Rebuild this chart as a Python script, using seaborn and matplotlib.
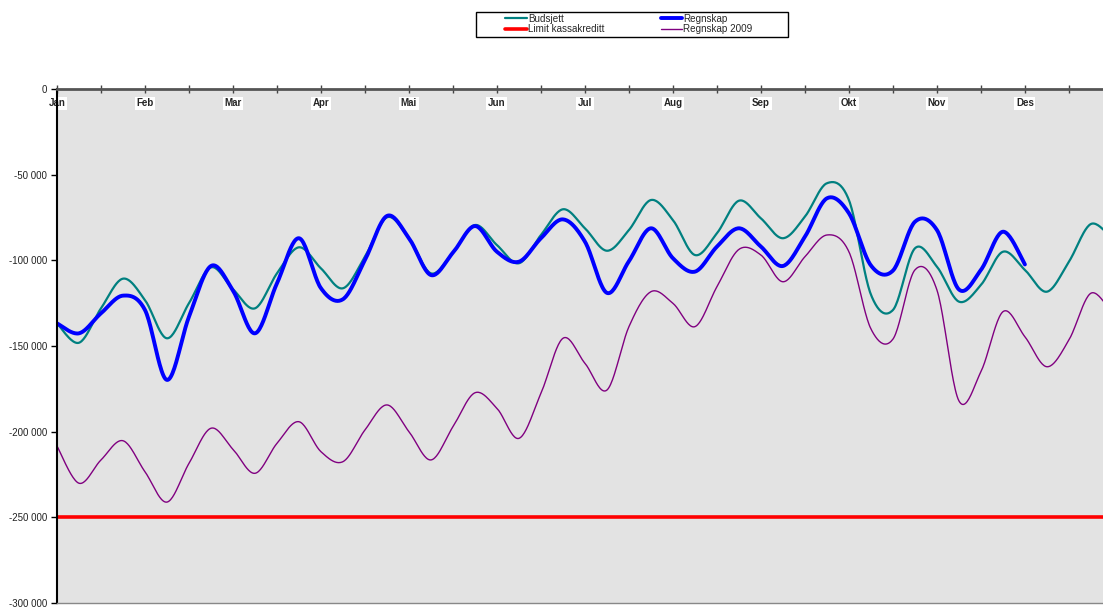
import numpy as np
import pandas as pd
import matplotlib
matplotlib.use("Agg")
import matplotlib.pyplot as plt
from matplotlib.patches import Rectangle
import seaborn as sns
from matplotlib.ticker import FuncFormatter, MultipleLocator, FixedLocator

# ---------------- data (weekly values) ----------------
months = ["Jan", "Feb", "Mar", "Apr", "Mai", "Jun", "Jul", "Aug", "Sep", "Okt", "Nov", "Des"]
month_weeks = [0, 4, 8, 12, 16, 20, 24, 28, 32, 36, 40, 44]

budsjett = [-136800, -148100, -128000, -110700, -123200, -145500, -125000, -104100,
            -116900, -128000, -107600, -92400, -104700, -116300, -97900, -74900,
            -87100, -107600, -95500, -79400, -91100, -101700, -85200, -70200,
            -81300, -94400, -82300, -64800, -76500, -96900, -84200, -65200,
            -75500, -87100, -74500, -55000, -64800, -120000, -129000, -93000,
            -103700, -124100, -114400, -95000, -105600, -118300, -100800, -78800,
            -88100]

regnskap = [-136800, -142600, -130900, -120600, -129000, -169800, -132900, -103300,
            -117700, -142600, -113400, -87100, -116300, -122700, -99800, -74100,
            -87100, -108600, -95500, -80000, -95000, -100800, -87100, -76100,
            -89100, -119000, -100500, -81300, -98800, -106600, -92000, -81300,
            -92000, -103300, -86200, -63800, -72500, -103000, -106000, -77500,
            -82300, -117000, -105600, -83300, -102400]

regnskap_2009 = [-208400, -230100, -216500, -205300, -223400, -241100, -218500, -198000,
                 -210300, -224300, -206800, -194200, -211700, -217500, -199000, -184400,
                 -200000, -216500, -197100, -177300, -186400, -203900, -177600, -145500,
                 -160100, -175700, -138700, -118300, -125100, -138700, -115400, -93600,
                 -96900, -112500, -97900, -85200, -95000, -140000, -146000, -105600,
                 -117300, -182000, -165000, -130000, -144600, -162100, -146500, -119200,
                 -131900]

limit_kassakreditt = [-250000] * 49


def smooth(vals, n=24):
    """Excel-style smoothed line: cubic Bezier through every point."""
    y = np.asarray(vals, float)
    x = np.arange(len(y), dtype=float)
    pts = np.column_stack([x, y])
    ext = np.vstack([pts[0], pts, pts[-1]])
    t = np.linspace(0, 1, n, endpoint=False)[:, None]
    out = []
    for i in range(len(pts) - 1):
        p0, p1, p2, p3 = ext[i], ext[i + 1], ext[i + 2], ext[i + 3]
        c1 = p1 + (p2 - p0) / 6
        c2 = p2 - (p3 - p1) / 6
        b = (1 - t) ** 3 * p1 + 3 * (1 - t) ** 2 * t * c1 + 3 * (1 - t) * t ** 2 * c2 + t ** 3 * p2
        out.append(b)
    out.append(pts[-1:])
    arr = np.vstack(out)
    return pd.DataFrame({"x": arr[:, 0], "y": arr[:, 1]})


# ---------------- figure ----------------
sns.set_style("white")
plt.rcParams["font.family"] = ["Liberation Sans", "DejaVu Sans"]

fig = plt.figure(figsize=(11.03, 6.07), dpi=100)
ax = fig.add_axes([57 / 1103, 4 / 607, 1 - 57 / 1103, 514 / 607])
ax.set_facecolor("#E3E3E3")

series = [
    ("Regnskap 2009", regnskap_2009, "#800080", 1.0),
    ("Budsjett", budsjett, "#008080", 1.6),
    ("Regnskap", regnskap, "#0000FF", 2.8),
]
for name, vals, col, lw in series:
    d = smooth(vals)
    sns.lineplot(data=d, x="x", y="y", sort=False, estimator=None, color=col,
                 linewidth=lw, label=name, ax=ax)

lim_df = pd.DataFrame({"x": np.arange(len(limit_kassakreditt)), "y": limit_kassakreditt})
sns.lineplot(data=lim_df, x="x", y="y", sort=False, estimator=None, color="#FF0000",
             linewidth=2.6, label="Limit kassakreditt", ax=ax)

ax.set_xlim(0, 47.55)
ax.set_ylim(-300000, 0)
ax.set_xlabel("")
ax.set_ylabel("")

# y axis
ax.yaxis.set_major_locator(MultipleLocator(50000))
ax.yaxis.set_major_formatter(FuncFormatter(lambda v, p: f"{v:,.0f}".replace(",", " ")))
ax.tick_params(axis="y", left=True, direction="out", length=4, width=1, color="black",
               labelsize=7, labelcolor="#222222", pad=3)

# x axis at top with month labels inside
ax.xaxis.set_major_locator(FixedLocator(month_weeks))
ax.set_xticklabels(months)
ax.xaxis.set_minor_locator(MultipleLocator(2))
ax.tick_params(axis="x", which="both", bottom=False, top=True, labelbottom=False,
               labeltop=True, direction="inout", length=6, width=1, color="#444444")
ax.tick_params(axis="x", which="major", labelsize=7, pad=-17)
for lab in ax.get_xticklabels():
    lab.set_fontweight("bold")
    lab.set_bbox(dict(facecolor="white", edgecolor="none", pad=1.2))

for s in ["top", "left", "bottom", "right"]:
    ax.spines[s].set_visible(True)
ax.spines["top"].set_color("#555555")
ax.spines["top"].set_linewidth(2.0)
ax.spines["left"].set_color("black")
ax.spines["left"].set_linewidth(1.5)
ax.spines["bottom"].set_color("#888888")
ax.spines["bottom"].set_linewidth(1.0)
ax.spines["right"].set_visible(False)

# legend (frameless, with a separate box drawn around it)
handles, labels = ax.get_legend_handles_labels()
ax.get_legend().remove()
order = ["Budsjett", "Limit kassakreditt", "Regnskap", "Regnskap 2009"]
hmap = dict(zip(labels, handles))
leg = fig.legend([hmap[k] for k in order], order, ncol=2, loc="center",
                 bbox_to_anchor=(629 / 1103, 1 - 24 / 607), fontsize=7.1,
                 frameon=False, handlelength=2.2, handletextpad=0.1,
                 columnspacing=5.7, borderpad=0.1, labelspacing=0.05)
fig.add_artist(Rectangle((476 / 1103, 1 - 37 / 607), 312 / 1103, 25 / 607,
                         transform=fig.transFigure, fill=False, edgecolor="black",
                         linewidth=1.0))

fig.savefig("out.png", dpi=100)
